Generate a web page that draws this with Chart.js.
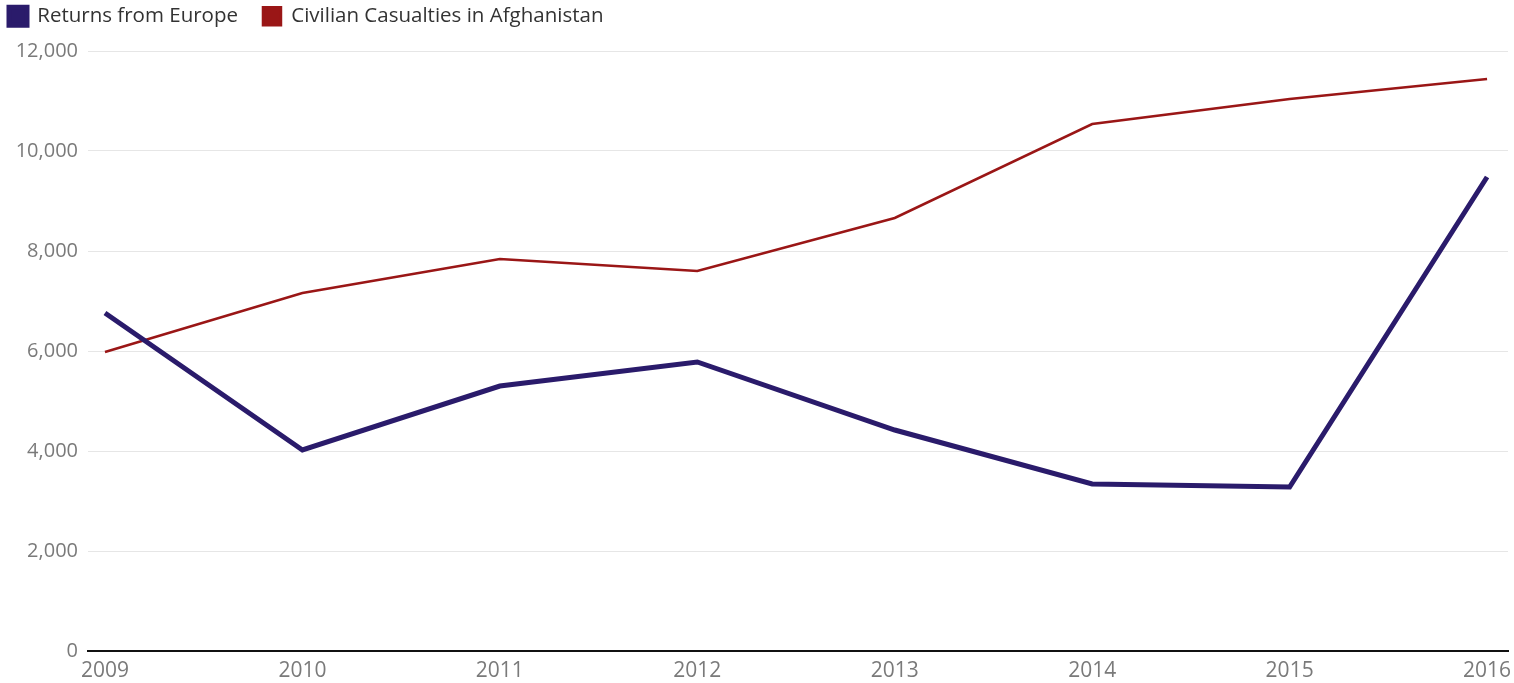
<!DOCTYPE html>
<html>
<head>
<meta charset="utf-8">
<script src="https://cdn.jsdelivr.net/npm/chart.js@4/dist/chart.umd.min.js"></script>
<style>
  html, body { margin: 0; padding: 0; background: #fff; }
  #wrap { width: 1514px; height: 683px; position: relative; }
</style>
</head>
<body>
<div id="wrap"><canvas id="chart"></canvas></div>
<script>
const years = [2009, 2010, 2011, 2012, 2013, 2014, 2015, 2016];
const returnsFromEurope = [6760, 4020, 5300, 5780, 4420, 3340, 3280, 9480];
const civilianCasualties = [5980, 7160, 7840, 7600, 8660, 10540, 11040, 11440];
const yTicks = [0, 2000, 4000, 6000, 8000, 10000, 12000];

const font = '"Open Sans", "Lato", sans-serif';
const legendGap = 25;

const toPoints = (vals) => vals.map((v, i) => ({ x: years[i], y: v }));

// legend takes the space above the plot, pulled back to the top-left corner
const legendLayout = {
    id: 'legendLayout',
    beforeInit(chart) {
        const fit = chart.legend.fit;
        chart.legend.fit = function () {
            fit.bind(chart.legend)();
            this.height = 51;
        };
    },
    afterLayout(chart) {
        chart.legend.left = 9 - legendGap;
        chart.legend.top = 6 - legendGap;
    }
};

new Chart(document.getElementById('chart'), {
    type: 'line',
    data: {
        datasets: [
            {
                label: 'Returns from Europe',
                data: toPoints(returnsFromEurope),
                borderColor: '#2a1b6b',
                backgroundColor: '#2a1b6b',
                borderWidth: 5,
                pointRadius: 0,
                tension: 0,
            },
            {
                label: 'Civilian Casualties in Afghanistan',
                data: toPoints(civilianCasualties),
                borderColor: '#9a1616',
                backgroundColor: '#9a1616',
                borderWidth: 2.5,
                pointRadius: 0,
                tension: 0,
            },
        ],
    },
    plugins: [legendLayout],
    options: {
        responsive: true,
        maintainAspectRatio: false,
        animation: false,
        layout: { padding: { left: 0, right: 6, top: 0, bottom: 0 } },
        plugins: {
            tooltip: { enabled: false },
            legend: {
                display: true,
                align: 'start',
                labels: {
                    boxWidth: 18,
                    boxHeight: 18,
                    padding: legendGap,
                    color: '#333',
                    font: { family: font, size: 20.5 },
                },
            },
        },
        scales: {
            x: {
                type: 'linear',
                min: 2008.914,
                max: 2016.106,
                afterBuildTicks(scale) {
                    scale.ticks = years.map((y) => ({ value: y }));
                },
                afterFit(scale) {
                    scale.height = 32;
                    scale.paddingLeft = 0;
                    scale.paddingRight = 0;
                },
                grid: { display: false, drawTicks: false },
                border: { display: true, color: '#111', width: 2 },
                ticks: {
                    color: '#7a7a7a',
                    font: { family: font, size: 21 },
                    padding: 7,
                    maxRotation: 0,
                    autoSkip: false,
                    callback: (v) => String(v),
                },
            },
            y: {
                min: 0,
                max: 12000,
                afterBuildTicks(scale) {
                    scale.ticks = yTicks.map((v) => ({ value: v }));
                },
                afterFit(scale) {
                    scale.width = 88;
                },
                grid: { color: '#e6e6e6', drawTicks: false, lineWidth: 1 },
                border: { display: false },
                ticks: {
                    color: '#7a7a7a',
                    font: { family: font, size: 20 },
                    padding: 10,
                    callback: (v) => v.toLocaleString('en-US'),
                },
            },
        },
    },
});
</script>
</body>
</html>
